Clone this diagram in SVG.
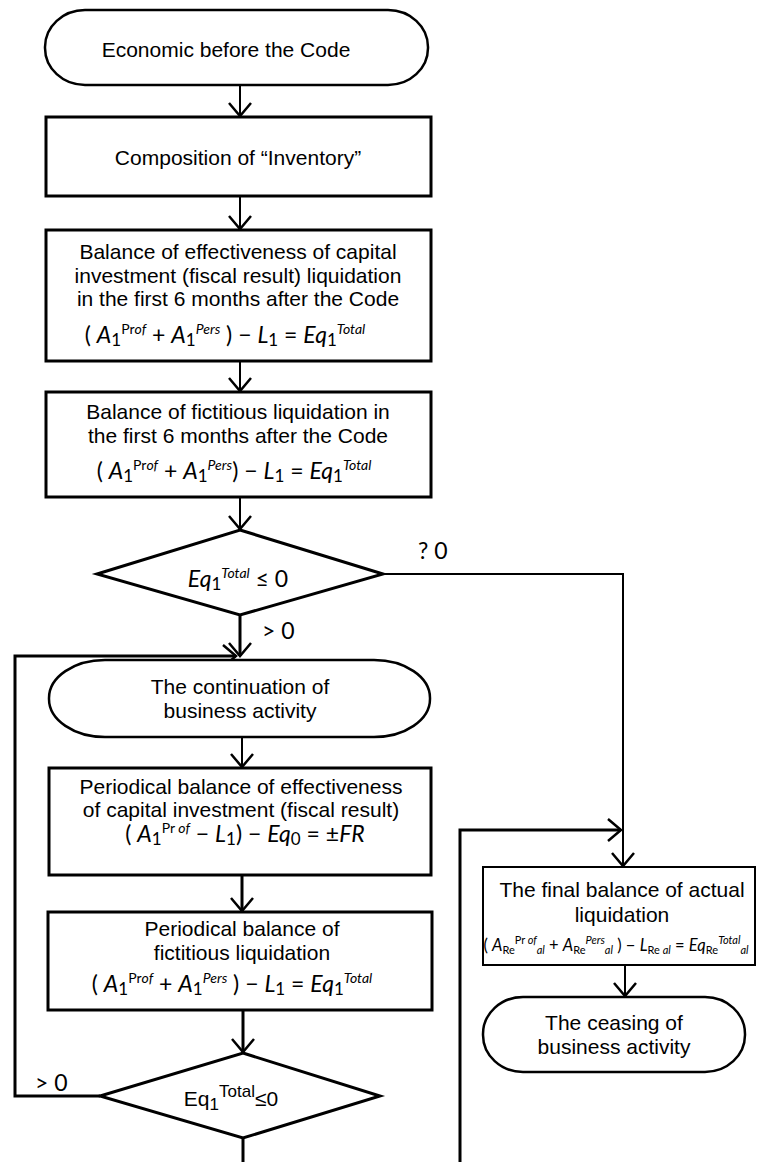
<svg xmlns="http://www.w3.org/2000/svg" width="757" height="1162" viewBox="0 0 757 1162">
<style>
.bg{fill:#fff}
.box{fill:#fff;stroke:#000;stroke-width:3}
.thin{fill:#fff;stroke:#000;stroke-width:2}
.term{fill:#fff;stroke:#000;stroke-width:2.5}
.t{font-family:"Liberation Sans",Arial,sans-serif;font-size:21px;fill:#000;text-anchor:middle}
.f{font-family:Lato,"Liberation Sans",sans-serif;font-size:23px;fill:#000;text-anchor:middle}
.lb{font-family:Lato,"Liberation Sans",sans-serif;font-size:23px;fill:#000}
.i{font-style:italic}
.s{font-size:17px}
.p{font-size:14px}
.sf{font-family:Lato,"Liberation Sans",sans-serif;font-size:16.5px;fill:#000;text-anchor:middle}
.ss{font-size:11px}
.c{fill:none;stroke:#000;stroke-width:3}
.c2{fill:none;stroke:#000;stroke-width:2}
</style>
<defs>
<marker id="ah" markerUnits="userSpaceOnUse" markerWidth="40" markerHeight="40" refX="0" refY="0" viewBox="-20 -20 40 40" orient="auto" overflow="visible">
<path d="M-13,-11 L0,0 L-13,11" fill="none" stroke="#000" stroke-width="2.5"/>
</marker>
</defs>
<rect class="bg" x="0" y="0" width="757" height="1162"/>

<g id="connectors">
<line class="c2" x1="240" y1="85" x2="240" y2="116" marker-end="url(#ah)"/>
<line class="c2" x1="240" y1="196" x2="240" y2="229" marker-end="url(#ah)"/>
<line class="c2" x1="240" y1="361" x2="240" y2="391" marker-end="url(#ah)"/>
<line class="c2" x1="240" y1="497" x2="240" y2="529" marker-end="url(#ah)"/>
<line class="c" x1="240" y1="615" x2="240" y2="656" marker-end="url(#ah)"/>
<polyline class="c" points="100,1096 15,1096 15,656 236,656" marker-end="url(#ah)"/>
<line class="c2" x1="242" y1="737" x2="242" y2="767" marker-end="url(#ah)"/>
<line class="c" x1="242" y1="875" x2="242" y2="911" marker-end="url(#ah)"/>
<line class="c" x1="243" y1="1010" x2="243" y2="1052" marker-end="url(#ah)"/>
<line class="c" x1="243" y1="1138" x2="243" y2="1162"/>
<polyline class="c2" points="383,574 623,574 623,866" marker-end="url(#ah)"/>
<polyline class="c" points="460,1162 460,830 621,830" marker-end="url(#ah)"/>
<line class="c2" x1="625" y1="965" x2="625" y2="996" marker-end="url(#ah)"/>
</g>

<g id="start">
<rect class="term" x="45" y="10" width="383" height="75" rx="40" ry="37"/>
<text class="t" x="226" y="57">Economic before the Code</text>
</g>

<g id="inventory">
<rect class="box" x="46" y="117" width="385" height="79"/>
<text class="t" x="238" y="165">Composition of “Inventory”</text>
</g>

<g id="balance-effectiveness">
<rect class="box" x="46" y="230" width="385" height="131"/>
<text class="t" x="238" y="259">Balance of effectiveness of capital</text>
<text class="t" x="238" y="283">investment (fiscal result) liquidation</text>
<text class="t" x="238" y="306">in the first 6 months after the Code</text>
<text class="f" x="225" y="343">( <tspan class="i">A</tspan><tspan class="s" dy="3">1</tspan><tspan class="p" dy="-12">Pr</tspan><tspan class="p i">of</tspan><tspan dy="9"> + </tspan><tspan class="i">A</tspan><tspan class="s" dy="3">1</tspan><tspan class="p i" dy="-12">Pers</tspan><tspan dy="9"> ) − </tspan><tspan class="i">L</tspan><tspan class="s" dy="3">1</tspan><tspan dy="-3"> = </tspan><tspan class="i">Eq</tspan><tspan class="s" dy="3">1</tspan><tspan class="p i" dy="-12">Total</tspan></text>
</g>

<g id="balance-fictitious">
<rect class="box" x="46" y="392" width="385" height="105"/>
<text class="t" x="238" y="419">Balance of fictitious liquidation in</text>
<text class="t" x="238" y="443">the first 6 months after the Code</text>
<text class="f" x="234" y="479">( <tspan class="i">A</tspan><tspan class="s" dy="3">1</tspan><tspan class="p" dy="-12">Pr</tspan><tspan class="p i">of</tspan><tspan dy="9"> + </tspan><tspan class="i">A</tspan><tspan class="s" dy="3">1</tspan><tspan class="p i" dy="-12">Pers</tspan><tspan dy="9">) − </tspan><tspan class="i">L</tspan><tspan class="s" dy="3">1</tspan><tspan dy="-3"> = </tspan><tspan class="i">Eq</tspan><tspan class="s" dy="3">1</tspan><tspan class="p i" dy="-12">Total</tspan></text>
</g>

<g id="decision-1">
<polygon class="box" points="240,530 383,574 240,615 97,574"/>
<text class="f" x="238" y="587"><tspan class="i">Eq</tspan><tspan class="s" dy="3">1</tspan><tspan class="p i" dy="-12">Total</tspan><tspan dy="9"> ≤ 0</tspan></text>
</g>
<g id="label-q0"><text class="lb" x="418" y="559">? 0</text></g>
<g id="label-gt0-a"><text class="lb" x="262" y="639">&gt; 0</text></g>

<g id="continuation">
<rect class="term" x="49" y="660" width="381" height="77" rx="56" ry="38"/>
<text class="t" x="240" y="694">The continuation of</text>
<text class="t" x="240" y="718">business activity</text>
</g>

<g id="periodical-effectiveness">
<rect class="box" x="49" y="768" width="382" height="107"/>
<text class="t" x="241" y="794">Periodical balance of effectiveness</text>
<text class="t" x="241" y="817">of capital investment (fiscal result)</text>
<text class="f" x="245" y="842">( <tspan class="i">A</tspan><tspan class="s" dy="3">1</tspan><tspan class="p" dy="-12">Pr </tspan><tspan class="p i">of</tspan><tspan dy="9"> − </tspan><tspan class="i">L</tspan><tspan class="s" dy="3">1</tspan><tspan dy="-3">) − </tspan><tspan class="i">Eq</tspan><tspan class="s" dy="3">0</tspan><tspan dy="-3"> = ±</tspan><tspan class="i">FR</tspan></text>
</g>

<g id="periodical-fictitious">
<rect class="box" x="48" y="912" width="384" height="98"/>
<text class="t" x="242" y="936">Periodical balance of</text>
<text class="t" x="242" y="960">fictitious liquidation</text>
<text class="f" x="232" y="992">( <tspan class="i">A</tspan><tspan class="s" dy="3">1</tspan><tspan class="p" dy="-12">Pr</tspan><tspan class="p i">of</tspan><tspan dy="9"> + </tspan><tspan class="i">A</tspan><tspan class="s" dy="3">1</tspan><tspan class="p i" dy="-12">Pers</tspan><tspan dy="9"> ) − </tspan><tspan class="i">L</tspan><tspan class="s" dy="3">1</tspan><tspan dy="-3"> = </tspan><tspan class="i">Eq</tspan><tspan class="s" dy="3">1</tspan><tspan class="p i" dy="-12">Total</tspan></text>
</g>

<g id="decision-2">
<polygon class="box" points="243,1053 380,1096 243,1138 100,1096"/>
<text class="t" x="231" y="1106">Eq<tspan class="s" dy="4">1</tspan><tspan class="s" dy="-13">Total</tspan><tspan dy="9">≤0</tspan></text>
</g>
<g id="label-gt0-b"><text class="lb" x="35" y="1091">&gt; 0</text></g>

<g id="final-balance">
<rect class="thin" x="483" y="867" width="272" height="98"/>
<text class="t" x="622" y="897">The final balance of actual</text>
<text class="t" x="622" y="922">liquidation</text>
<text class="sf" x="616" y="951">( <tspan class="i">A</tspan><tspan class="ss" dy="3">Re</tspan><tspan class="ss" dy="-10">Pr </tspan><tspan class="ss i">of</tspan><tspan class="ss i" dy="10">al</tspan><tspan dy="-3"> + </tspan><tspan class="i">A</tspan><tspan class="ss" dy="3">Re</tspan><tspan class="ss i" dy="-10">Pers</tspan><tspan class="ss i" dy="10">al</tspan><tspan dy="-3"> ) − </tspan><tspan class="i">L</tspan><tspan class="ss" dy="3">Re </tspan><tspan class="ss i">al</tspan><tspan dy="-3"> = </tspan><tspan class="i">Eq</tspan><tspan class="ss" dy="3">Re</tspan><tspan class="ss i" dy="-10">Total</tspan><tspan class="ss i" dy="10">al</tspan></text>
</g>

<g id="ceasing">
<rect class="term" x="483" y="997" width="262" height="75" rx="40" ry="37"/>
<text class="t" x="614" y="1030">The ceasing of</text>
<text class="t" x="614" y="1054">business activity</text>
</g>
</svg>
